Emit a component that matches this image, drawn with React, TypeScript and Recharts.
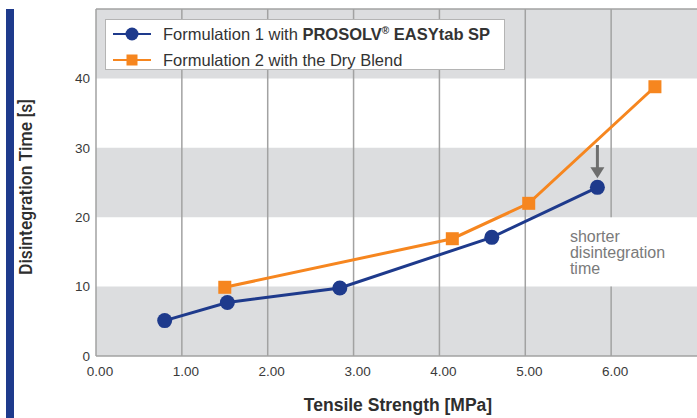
import React from 'react';
import {
  LineChart, Line, XAxis, YAxis, ReferenceArea, ReferenceLine, ReferenceDot, Legend
} from 'recharts';

// Tensile strength [MPa] vs disintegration time [s]
const formulation1 = [
  { x: 0.80, y: 5.1 },
  { x: 1.53, y: 7.7 },
  { x: 2.84, y: 9.8 },
  { x: 4.61, y: 17.1 },
  { x: 5.84, y: 24.3 },
];

const formulation2 = [
  { x: 1.50, y: 9.9 },
  { x: 4.15, y: 16.9 },
  { x: 5.04, y: 22.0 },
  { x: 6.51, y: 38.8 },
];

const xTicks = [0, 1, 2, 3, 4, 5, 6];
const yTicks = [0, 10, 20, 30, 40];
// shaded horizontal bands [from, to]
const grayBands = [[0, 10], [20, 30], [40, 50]];
// arrow from formulation 2 curve down to formulation 1 point
const arrowX = 5.84;
const arrowFrom = 30.4;
const arrowTo = 25.6;
const noteLines = ['shorter', 'disintegration', 'time'];

const BLUE = '#1e3a8c';
const ORANGE = '#f6861f';
const BAND = '#dcdddf';
const GRID = '#a2a2a2';
const FONT = '"Liberation Sans", Arial, sans-serif';

const BlueDot = (p: any) => (
  <circle key={`b-${p.index}`} cx={p.cx} cy={p.cy} r={7.5} fill={BLUE} />
);

const OrangeDot = (p: any) => (
  <rect key={`o-${p.index}`} x={p.cx - 6.5} y={p.cy - 6.5} width={13} height={13} fill={ORANGE} />
);

const Arrow = (p: any) => {
  const x = p.x1;
  const top = Math.min(p.y1, p.y2);
  const bottom = Math.max(p.y1, p.y2);
  return (
    <g>
      <line x1={x} y1={top} x2={x} y2={bottom - 10} stroke="#6e6e6e" strokeWidth={3} />
      <polygon points={`${x - 7},${bottom - 11} ${x + 7},${bottom - 11} ${x},${bottom}`} fill="#6e6e6e" />
    </g>
  );
};

const NoteLabel = (p: any) => {
  const { x, y } = p.viewBox;
  return (
    <text x={x} y={y} fill="#7a7a7a" fontSize={16} fontFamily={FONT}>
      {noteLines.map((t, i) => (
        <tspan key={t} x={x} dy={i === 0 ? 0 : 16}>{t}</tspan>
      ))}
    </text>
  );
};

const LegendBox = () => (
  <div style={{
    width: 398, height: 49, background: '#fff', border: '1.5px solid #b4b4b4',
    fontFamily: FONT, fontSize: 16.5, color: '#333', boxSizing: 'content-box'
  }}>
    <div style={{ display: 'flex', alignItems: 'center', height: 26, marginTop: 1 }}>
      <svg width={52} height={20} style={{ marginLeft: 5 }}>
        <line x1={2} y1={10} x2={40} y2={10} stroke={BLUE} strokeWidth={2} />
        <circle cx={21} cy={10} r={6.5} fill={BLUE} />
      </svg>
      <span>Formulation 1 with <b>PROSOLV<sup style={{ fontSize: 10 }}>®</sup> EASYtab SP</b></span>
    </div>
    <div style={{ display: 'flex', alignItems: 'center', height: 26 }}>
      <svg width={52} height={20} style={{ marginLeft: 5 }}>
        <line x1={2} y1={10} x2={40} y2={10} stroke={ORANGE} strokeWidth={2} />
        <rect x={15.5} y={4.5} width={11} height={11} fill={ORANGE} />
      </svg>
      <span>Formulation 2 with the Dry Blend</span>
    </div>
  </div>
);

export default function App() {
  return (
    <div style={{ position: 'absolute', left: 0, top: 0, width: 697, height: 418, background: '#fff' }}>
      {/* navy side bar */}
      <div style={{ position: 'absolute', left: 6, top: 9, width: 8, height: 409, background: BLUE }} />
      <LineChart
        width={697}
        height={418}
        margin={{ top: 9, right: 0, left: 0, bottom: 0 }}
        style={{ fontFamily: FONT }}
      >
        <XAxis
          type="number"
          dataKey="x"
          domain={[0, 7]}
          ticks={xTicks}
          tickFormatter={(v) => Number(v).toFixed(2)}
          allowDataOverflow
          height={62}
          tickLine={false}
          tickMargin={4}
          axisLine={{ stroke: GRID, strokeWidth: 1.5 }}
          tick={{ fill: '#3a3a3a', fontSize: 13.5, dx: 4 }}
          label={{
            content: () => (
              <text x={398} y={411} textAnchor="middle" fontSize={17.5} fontWeight="bold" fill="#2e2e2e" fontFamily={FONT}>
                Tensile Strength [MPa]
              </text>
            )
          }}
        />
        <YAxis
          type="number"
          domain={[0, 50]}
          ticks={yTicks}
          allowDataOverflow
          width={96}
          tickLine={false}
          tickSize={4}
          tickMargin={2}
          axisLine={{ stroke: GRID, strokeWidth: 1.5 }}
          tick={{ fill: '#3a3a3a', fontSize: 13.5 }}
          label={{
            content: () => (
              <text x={32} y={187} transform="rotate(-90 32 187)" textAnchor="middle" fontSize={17.5} fontWeight={500} fill="#2e2e2e" fontFamily="Roboto, sans-serif">
                Disintegration Time  [s]
              </text>
            )
          }}
        />
        {grayBands.map(([a, b]) => (
          <ReferenceArea key={`band-${a}`} y1={a} y2={b} x1={0} x2={7} fill={BAND} fillOpacity={1} stroke="none" />
        ))}
        <ReferenceLine y={50} stroke={GRID} strokeWidth={1.5} />
        {xTicks.filter((t) => t > 0 && t < 6).map((t) => (
          <ReferenceLine key={`vx-${t}`} x={t} stroke={GRID} strokeWidth={1.5} />
        ))}
        {/* the 6.00 grid line is interrupted behind the note */}
        <ReferenceLine segment={[{ x: 6, y: 0 }, { x: 6, y: 10 }]} stroke={GRID} strokeWidth={1.5} />
        <ReferenceLine segment={[{ x: 6, y: 20 }, { x: 6, y: 50 }]} stroke={GRID} strokeWidth={1.5} />
        <ReferenceLine
          segment={[{ x: arrowX, y: arrowFrom }, { x: arrowX, y: arrowTo }]}
          shape={Arrow}
        />
        <ReferenceDot x={5.52} y={16.4} r={0} stroke="none" label={{ content: NoteLabel }} />
        <Legend
          layout="horizontal"
          verticalAlign="middle"
          align="center"
          wrapperStyle={{ top: 19, left: 105, width: 401 }}
          content={() => <LegendBox />}
        />
        <Line
          data={formulation1}
          dataKey="y"
          name="Formulation 1"
          stroke={BLUE}
          strokeWidth={3}
          dot={BlueDot}
          activeDot={false}
          isAnimationActive={false}
        />
        <Line
          data={formulation2}
          dataKey="y"
          name="Formulation 2"
          stroke={ORANGE}
          strokeWidth={3}
          dot={OrangeDot}
          activeDot={false}
          isAnimationActive={false}
        />
      </LineChart>
    </div>
  );
}
